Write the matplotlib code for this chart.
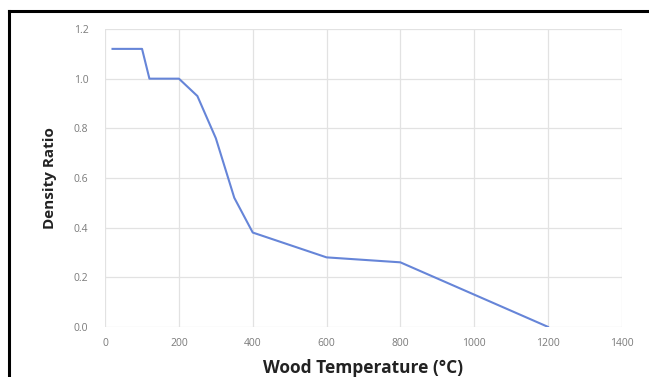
import matplotlib
matplotlib.use("Agg")
import matplotlib.pyplot as plt
from matplotlib.lines import Line2D

# ---------- DATA ----------
temperature = [20, 100, 120, 200, 250, 300, 350, 400, 600, 800, 1200]
density_ratio = [1.12, 1.12, 1.00, 1.00, 0.93, 0.76, 0.52, 0.38, 0.28, 0.26, 0.0]
x_ticks = [0, 200, 400, 600, 800, 1000, 1200, 1400]
x_tick_labels = ["0", "200", "400", "600", "800", "1000", "1200", "1400"]
y_ticks = [0.0, 0.2, 0.4, 0.6, 0.8, 1.0, 1.2]

plt.rcParams["font.family"] = ["Open Sans", "DejaVu Sans"]

fig = plt.figure(figsize=(6.49, 3.77), dpi=100)
ax = fig.add_axes([0.162, 0.133, 0.796, 0.790])

ax.plot(temperature, density_ratio, color="#6685d8", linewidth=1.5)

ax.set_xlim(0, 1400)
ax.set_ylim(0, 1.2)
ax.set_xticks(x_ticks)
ax.set_xticklabels(x_tick_labels)
ax.set_yticks(y_ticks)
ax.set_yticklabels([f"{v:.1f}" for v in y_ticks])
ax.tick_params(axis="x", length=0, labelsize=7.5, labelcolor="#7a7a7a", pad=8)
ax.tick_params(axis="y", length=0, labelsize=7.5, labelcolor="#7a7a7a", pad=12)

ax.grid(True, color="#e2e2e2", linewidth=0.9)
ax.set_axisbelow(True)
for s in ax.spines.values():
    s.set_visible(False)

ax.set_xlabel("Wood Temperature (°C)", fontsize=12.5, fontweight="bold", color="#222222", labelpad=7)
ax.set_ylabel("Density Ratio", fontsize=11, fontweight="bold", color="#222222", labelpad=12)

# black frame (left and top only visible in the crop)
fig.add_artist(Line2D([0.014, 0.014], [0.0, 0.972], transform=fig.transFigure, color="black", linewidth=2.2))
fig.add_artist(Line2D([0.014, 1.0], [0.972, 0.972], transform=fig.transFigure, color="black", linewidth=2.2))

fig.savefig("out.png", dpi=100)
